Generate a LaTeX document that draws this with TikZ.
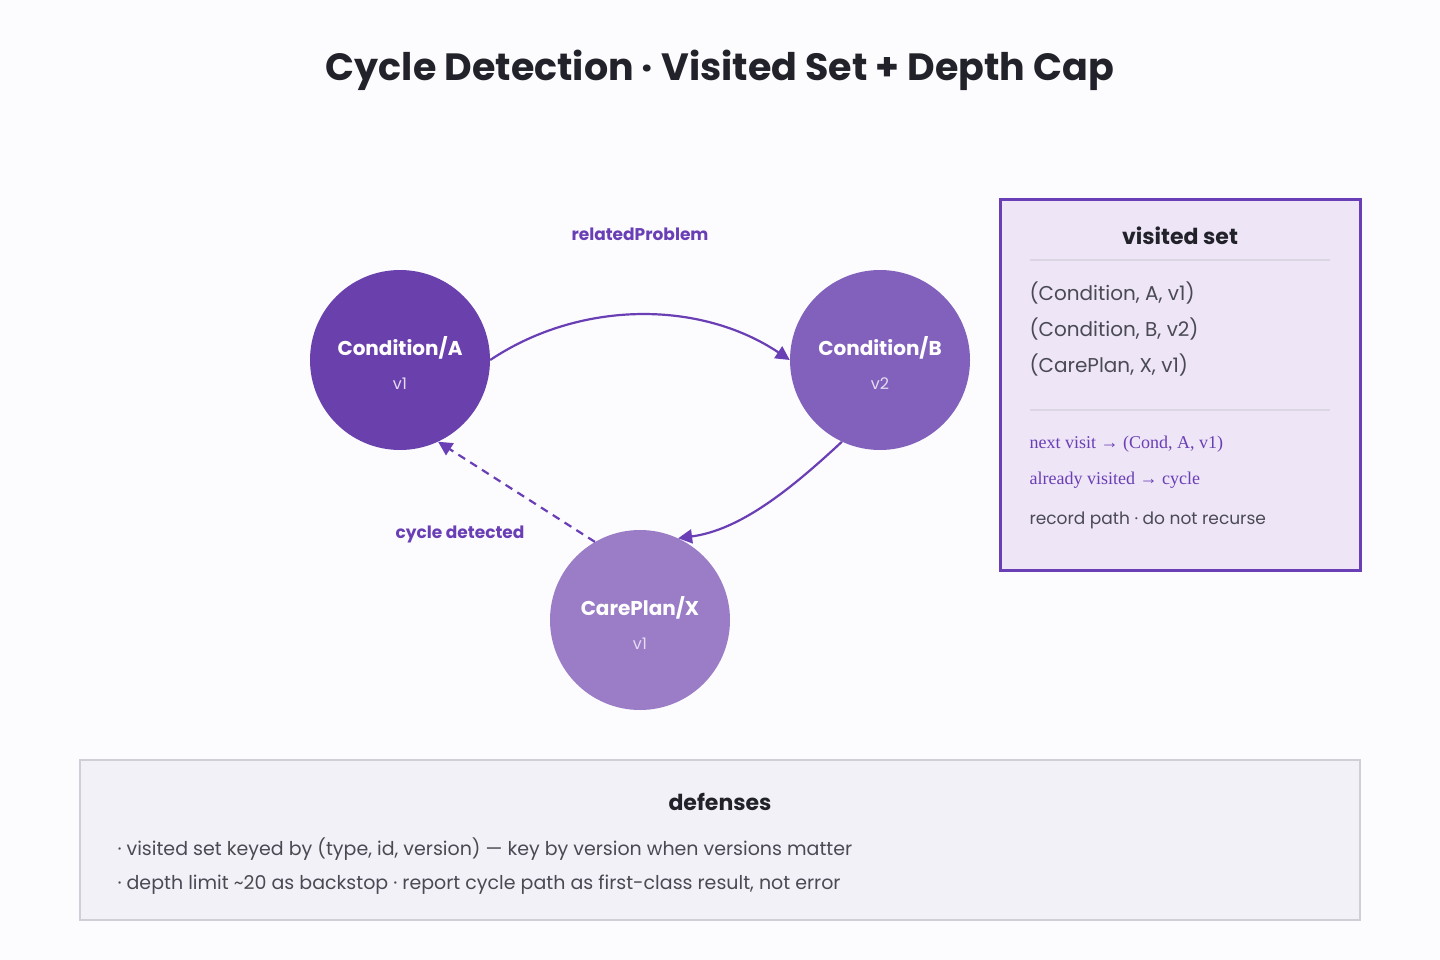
\documentclass[tikz,border=0pt]{standalone}
\usepackage{fontspec}
\setmainfont{Poppins}
\newfontfamily\serifx{Liberation Serif}
\usetikzlibrary{arrows.meta}
\definecolor{bg}{HTML}{FCFCFE}
\definecolor{cA}{HTML}{6A40AD}
\definecolor{cB}{HTML}{8161BC}
\definecolor{cX}{HTML}{9A7CC7}
\definecolor{pur}{HTML}{6A3FB5}
\definecolor{vfill}{HTML}{EEE5F7}
\definecolor{dark}{HTML}{22222A}
\definecolor{txt}{HTML}{4A4A55}
\definecolor{rule}{HTML}{DCD6E4}
\definecolor{dfill}{HTML}{F2F1F7}
\definecolor{dline}{HTML}{CFCFD8}
\definecolor{sub}{HTML}{E6DDF3}
\begin{document}
\begin{tikzpicture}[x=1pt,y=-1pt,
  circ/.style={circle,minimum size=180pt,inner sep=0pt,draw=none},
  ttl/.style={font=\fontsize{20}{24}\selectfont\bfseries,text=white},
  ver/.style={font=\fontsize{16}{19}\selectfont,text=sub},
  edge/.style={draw=pur,line width=2.2pt,-{Triangle[length=14pt,width=14pt]}},
  elab/.style={font=\fontsize{17}{20}\selectfont\bfseries,text=pur},
  entry/.style={anchor=west,font=\fontsize{20}{24}\selectfont,text=txt},
  ser/.style={anchor=west,font=\serifx\fontsize{18}{22}\selectfont,text=pur}]
\fill[bg] (0,0) rectangle (1440,960);
\useasboundingbox (0,0) rectangle (1440,960);
\node[font=\fontsize{38}{44}\selectfont\bfseries,text=dark] (title) at (720,70) {Cycle Detection · Visited Set + Depth Cap};
\node[circ,fill=cA] (A) at (400,360) {};
\node[circ,fill=cB] (B) at (880,360) {};
\node[circ,fill=cX] (X) at (640,620) {};
\node[ttl] (At) at (400,348) {Condition/A};
\node[ver] (Av) at (400,384) {v1};
\node[ttl] (Bt) at (880,348) {Condition/B};
\node[ver] (Bv) at (880,384) {v2};
\node[ttl] (Xt) at (640,608) {CarePlan/X};
\node[ver] (Xv) at (640,644) {v1};
\draw[edge] (A.east) .. controls (580,300) and (700,300) .. (B.west);
\draw[edge] (B.-115) .. controls (790,490) and (740,530) .. (X.65);
\draw[edge,dashed,dash pattern=on 8pt off 6pt] (X.120) -- (A.-65);
\node[elab] (l1) at (640,234) {relatedProblem};
\node[elab] (l2) at (460,534) {cycle detected};
\draw[draw=pur,line width=3pt,fill=vfill] (1000,200) rectangle (1360,570);
\node[font=\fontsize{22}{26}\selectfont\bfseries,text=dark] (vt) at (1180,236) {visited set};
\draw[rule,line width=1.5pt] (1030,260) -- (1330,260);
\node[entry] (e1) at (1026,293) {(Condition, A, v1)};
\node[entry] (e2) at (1026,329) {(Condition, B, v2)};
\node[entry] (e3) at (1026,365) {(CarePlan, X, v1)};
\draw[rule,line width=1.5pt] (1030,410) -- (1330,410);
\node[ser] (s1) at (1026,444) {next visit → (Cond, A, v1)};
\node[ser] (s2) at (1026,480) {already visited → cycle};
\node[entry,font=\fontsize{17}{20}\selectfont] (s3) at (1026,520) {record path · do not recurse};
\draw[draw=dline,line width=1.5pt,fill=dfill] (80,760) rectangle (1360,920);
\node[font=\fontsize{22}{26}\selectfont\bfseries,text=dark] (dt) at (720,802) {defenses};
\node[entry,font=\fontsize{19}{23}\selectfont] (d1) at (114,849) {· visited set keyed by (type, id, version) — key by version when versions matter};
\node[entry,font=\fontsize{19}{23}\selectfont] (d2) at (114,885) {· depth limit \textasciitilde20 as backstop · report cycle path as first-class result, not error};
\end{tikzpicture}
\end{document}
